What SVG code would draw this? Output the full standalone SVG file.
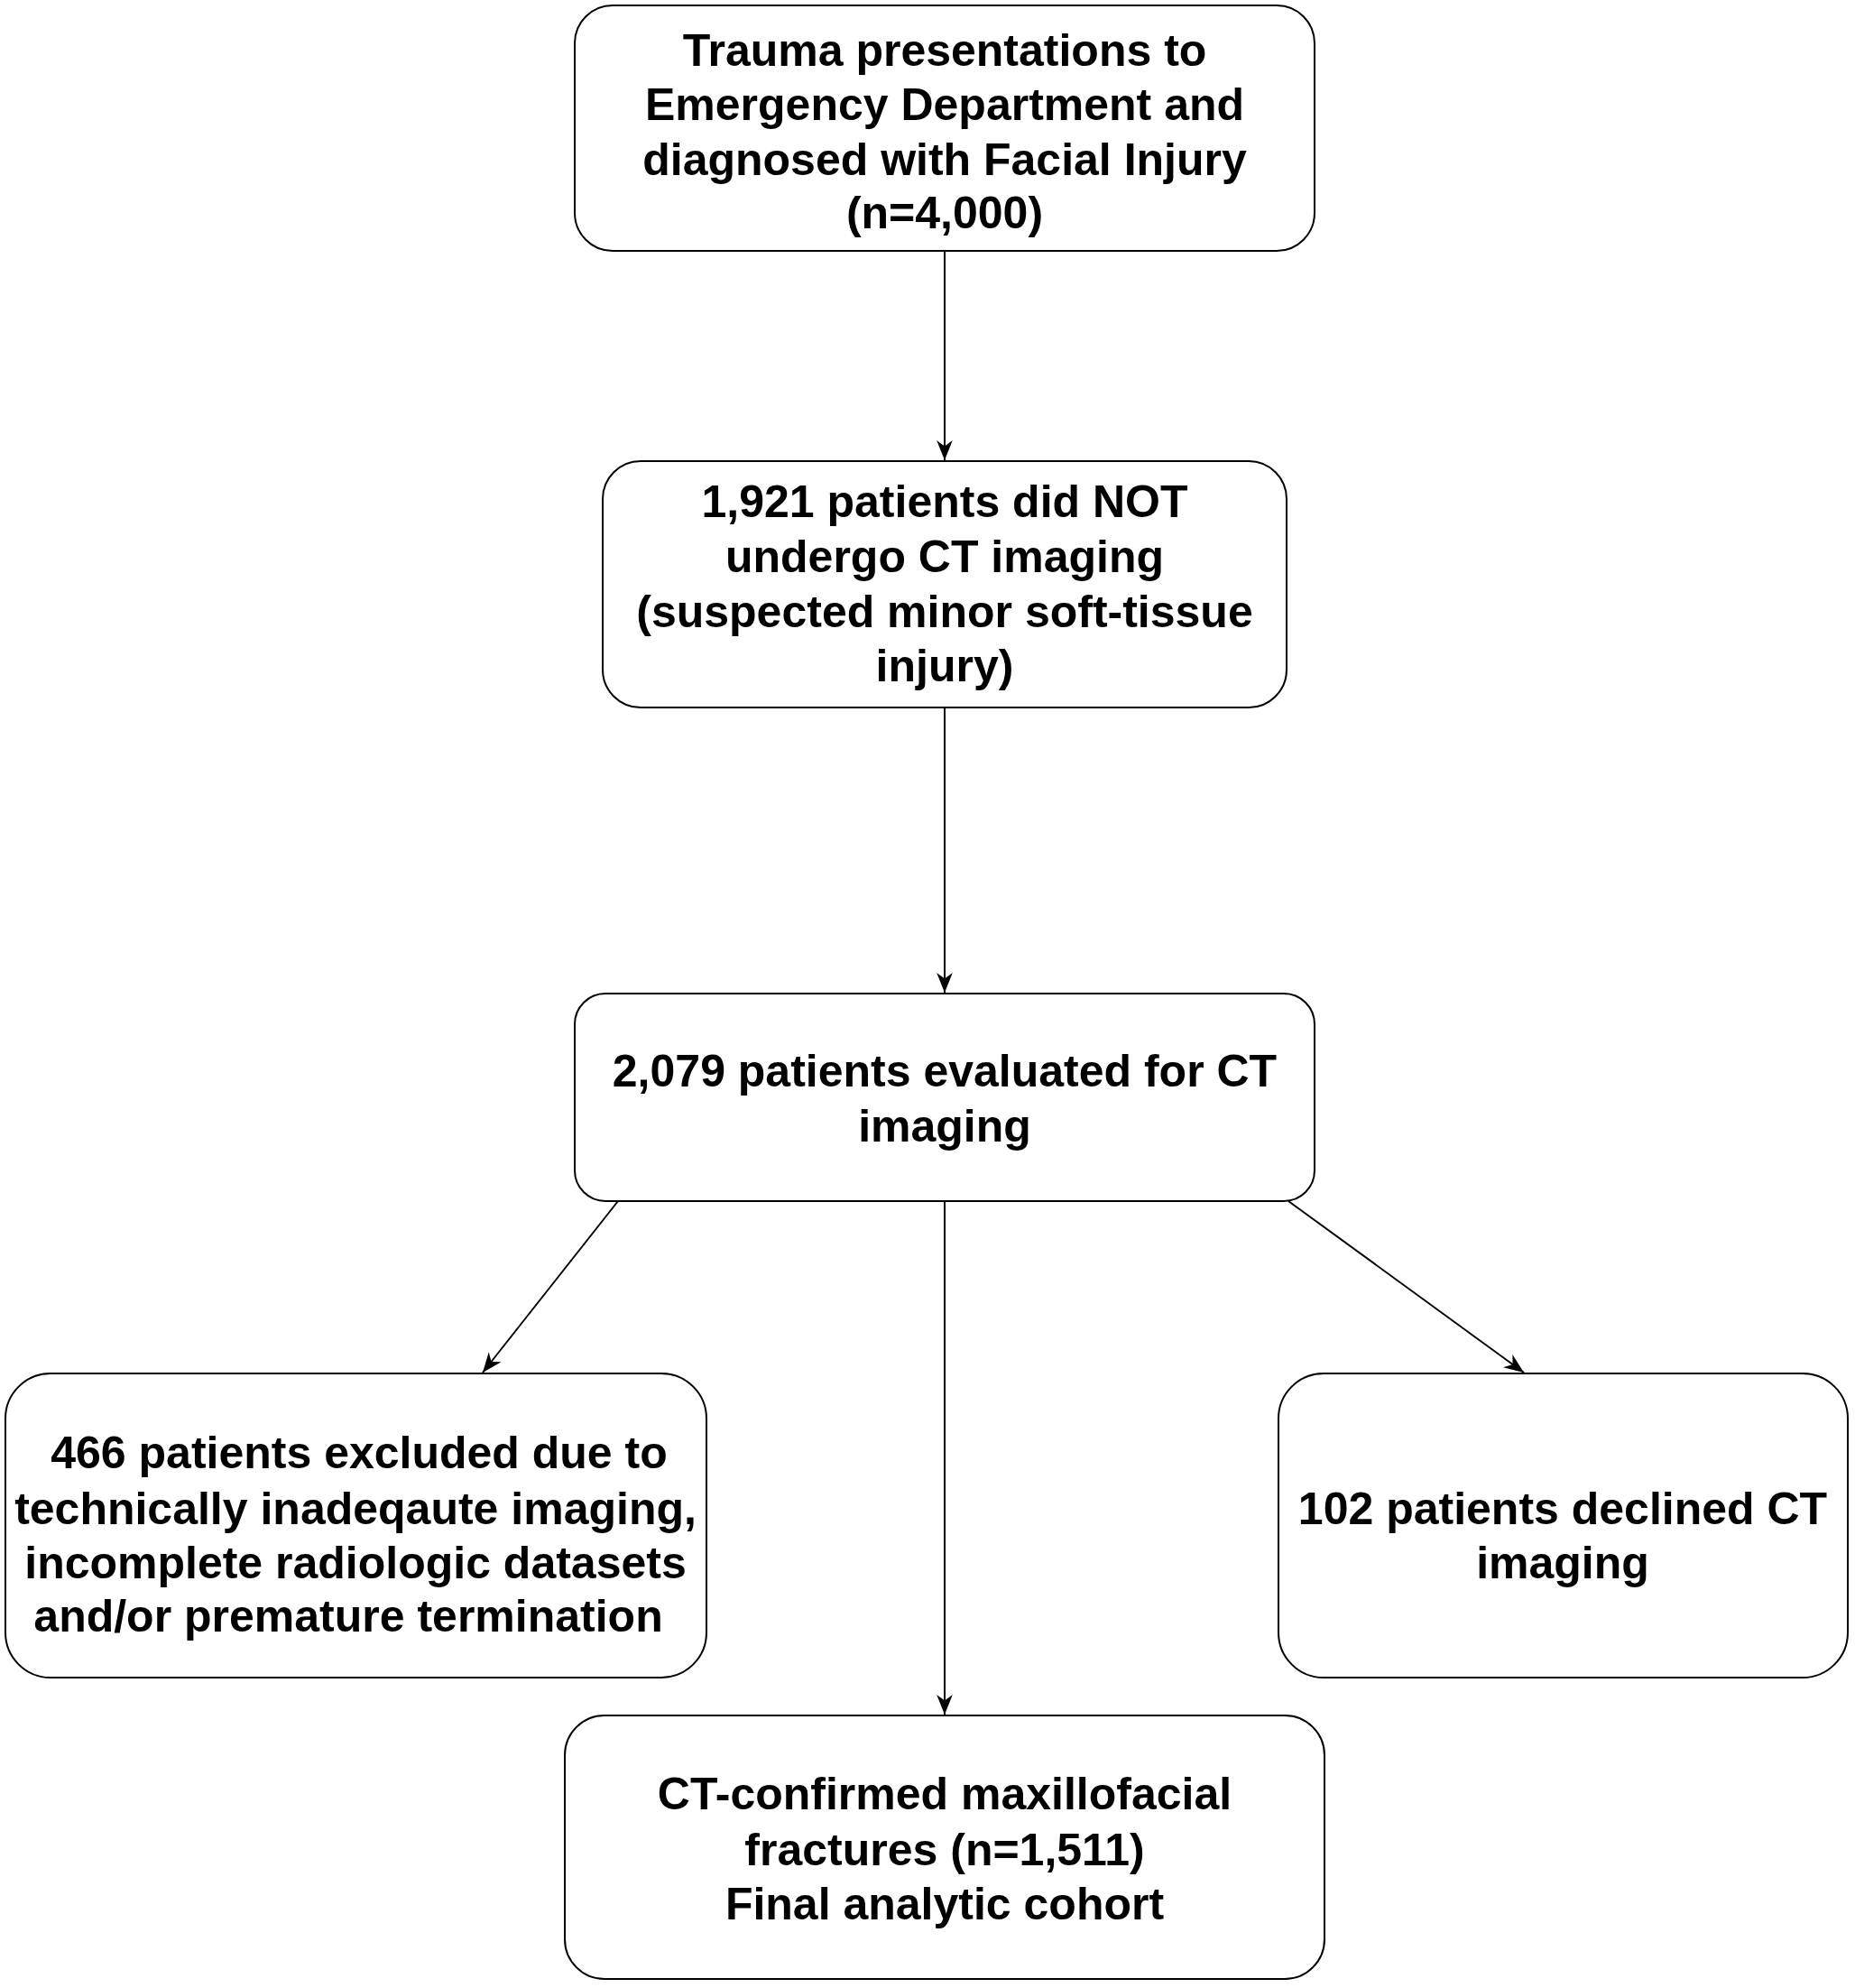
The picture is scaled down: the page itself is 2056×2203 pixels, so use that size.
<svg xmlns="http://www.w3.org/2000/svg" width="2056" height="2203" viewBox="0 0 2056 2203">
<style>
.box{fill:#fff;stroke:#000;stroke-width:2}
.t{font-family:"Liberation Sans",Arial,sans-serif;font-weight:bold;font-size:50px;text-anchor:middle;fill:#000}
.c{stroke:#000;stroke-width:2;fill:none}
</style>
<defs>
<marker id="a" viewBox="0 0 20 20" refX="20" refY="10" markerWidth="22" markerHeight="22" markerUnits="userSpaceOnUse" orient="auto"><path d="M0,2 L20,10 L0,18 L6,10 Z" fill="#000"/></marker></defs>
<rect width="2056" height="2203" fill="#fff"/>
<g id="connectors">
<line class="c" x1="1047" y1="278" x2="1047" y2="510" marker-end="url(#a)"/>
<line class="c" x1="1047" y1="784" x2="1047" y2="1100" marker-end="url(#a)"/>
<line class="c" x1="1047" y1="1331" x2="1047" y2="1900" marker-end="url(#a)"/>
<line class="c" x1="685" y1="1331" x2="535" y2="1521" marker-end="url(#a)"/>
<line class="c" x1="1428" y1="1331" x2="1689" y2="1521" marker-end="url(#a)"/>
</g>
<g id="n1"><rect class="box" x="637" y="6" width="820" height="272" rx="42"/>
<text class="t" x="1047" y="73">Trauma presentations to</text><text class="t" x="1047" y="133">Emergency Department and</text><text class="t" x="1047" y="194">diagnosed with Facial Injury</text><text class="t" x="1047" y="253">(n=4,000)</text></g>
<g id="n2"><rect class="box" x="668" y="511" width="758" height="273" rx="42"/>
<text class="t" x="1047" y="573">1,921 patients did NOT</text><text class="t" x="1047" y="634">undergo CT imaging</text><text class="t" x="1047" y="695">(suspected minor soft-tissue</text><text class="t" x="1047" y="755">injury)</text></g>
<g id="n3"><rect class="box" x="637" y="1101" width="820" height="230" rx="34"/>
<text class="t" x="1047" y="1204">2,079 patients evaluated for CT</text><text class="t" x="1047" y="1265">imaging</text></g>
<g id="n4"><rect class="box" x="6" y="1522" width="777" height="337" rx="50"/>
<text class="t" x="398" y="1627">466 patients excluded due to</text><text class="t" x="394" y="1689">technically inadeqaute imaging,</text><text class="t" x="394" y="1749">incomplete radiologic datasets</text><text class="t" x="386" y="1808">and/or premature termination</text></g>
<g id="n5"><rect class="box" x="1417" y="1522" width="631" height="337" rx="50"/>
<text class="t" x="1732" y="1689">102 patients declined CT</text><text class="t" x="1732" y="1749">imaging</text></g>
<g id="n6"><rect class="box" x="626" y="1901" width="842" height="292" rx="44"/>
<text class="t" x="1047" y="2005">CT-confirmed maxillofacial</text><text class="t" x="1047" y="2067">fractures (n=1,511)</text><text class="t" x="1047" y="2127">Final analytic cohort</text></g>
</svg>
